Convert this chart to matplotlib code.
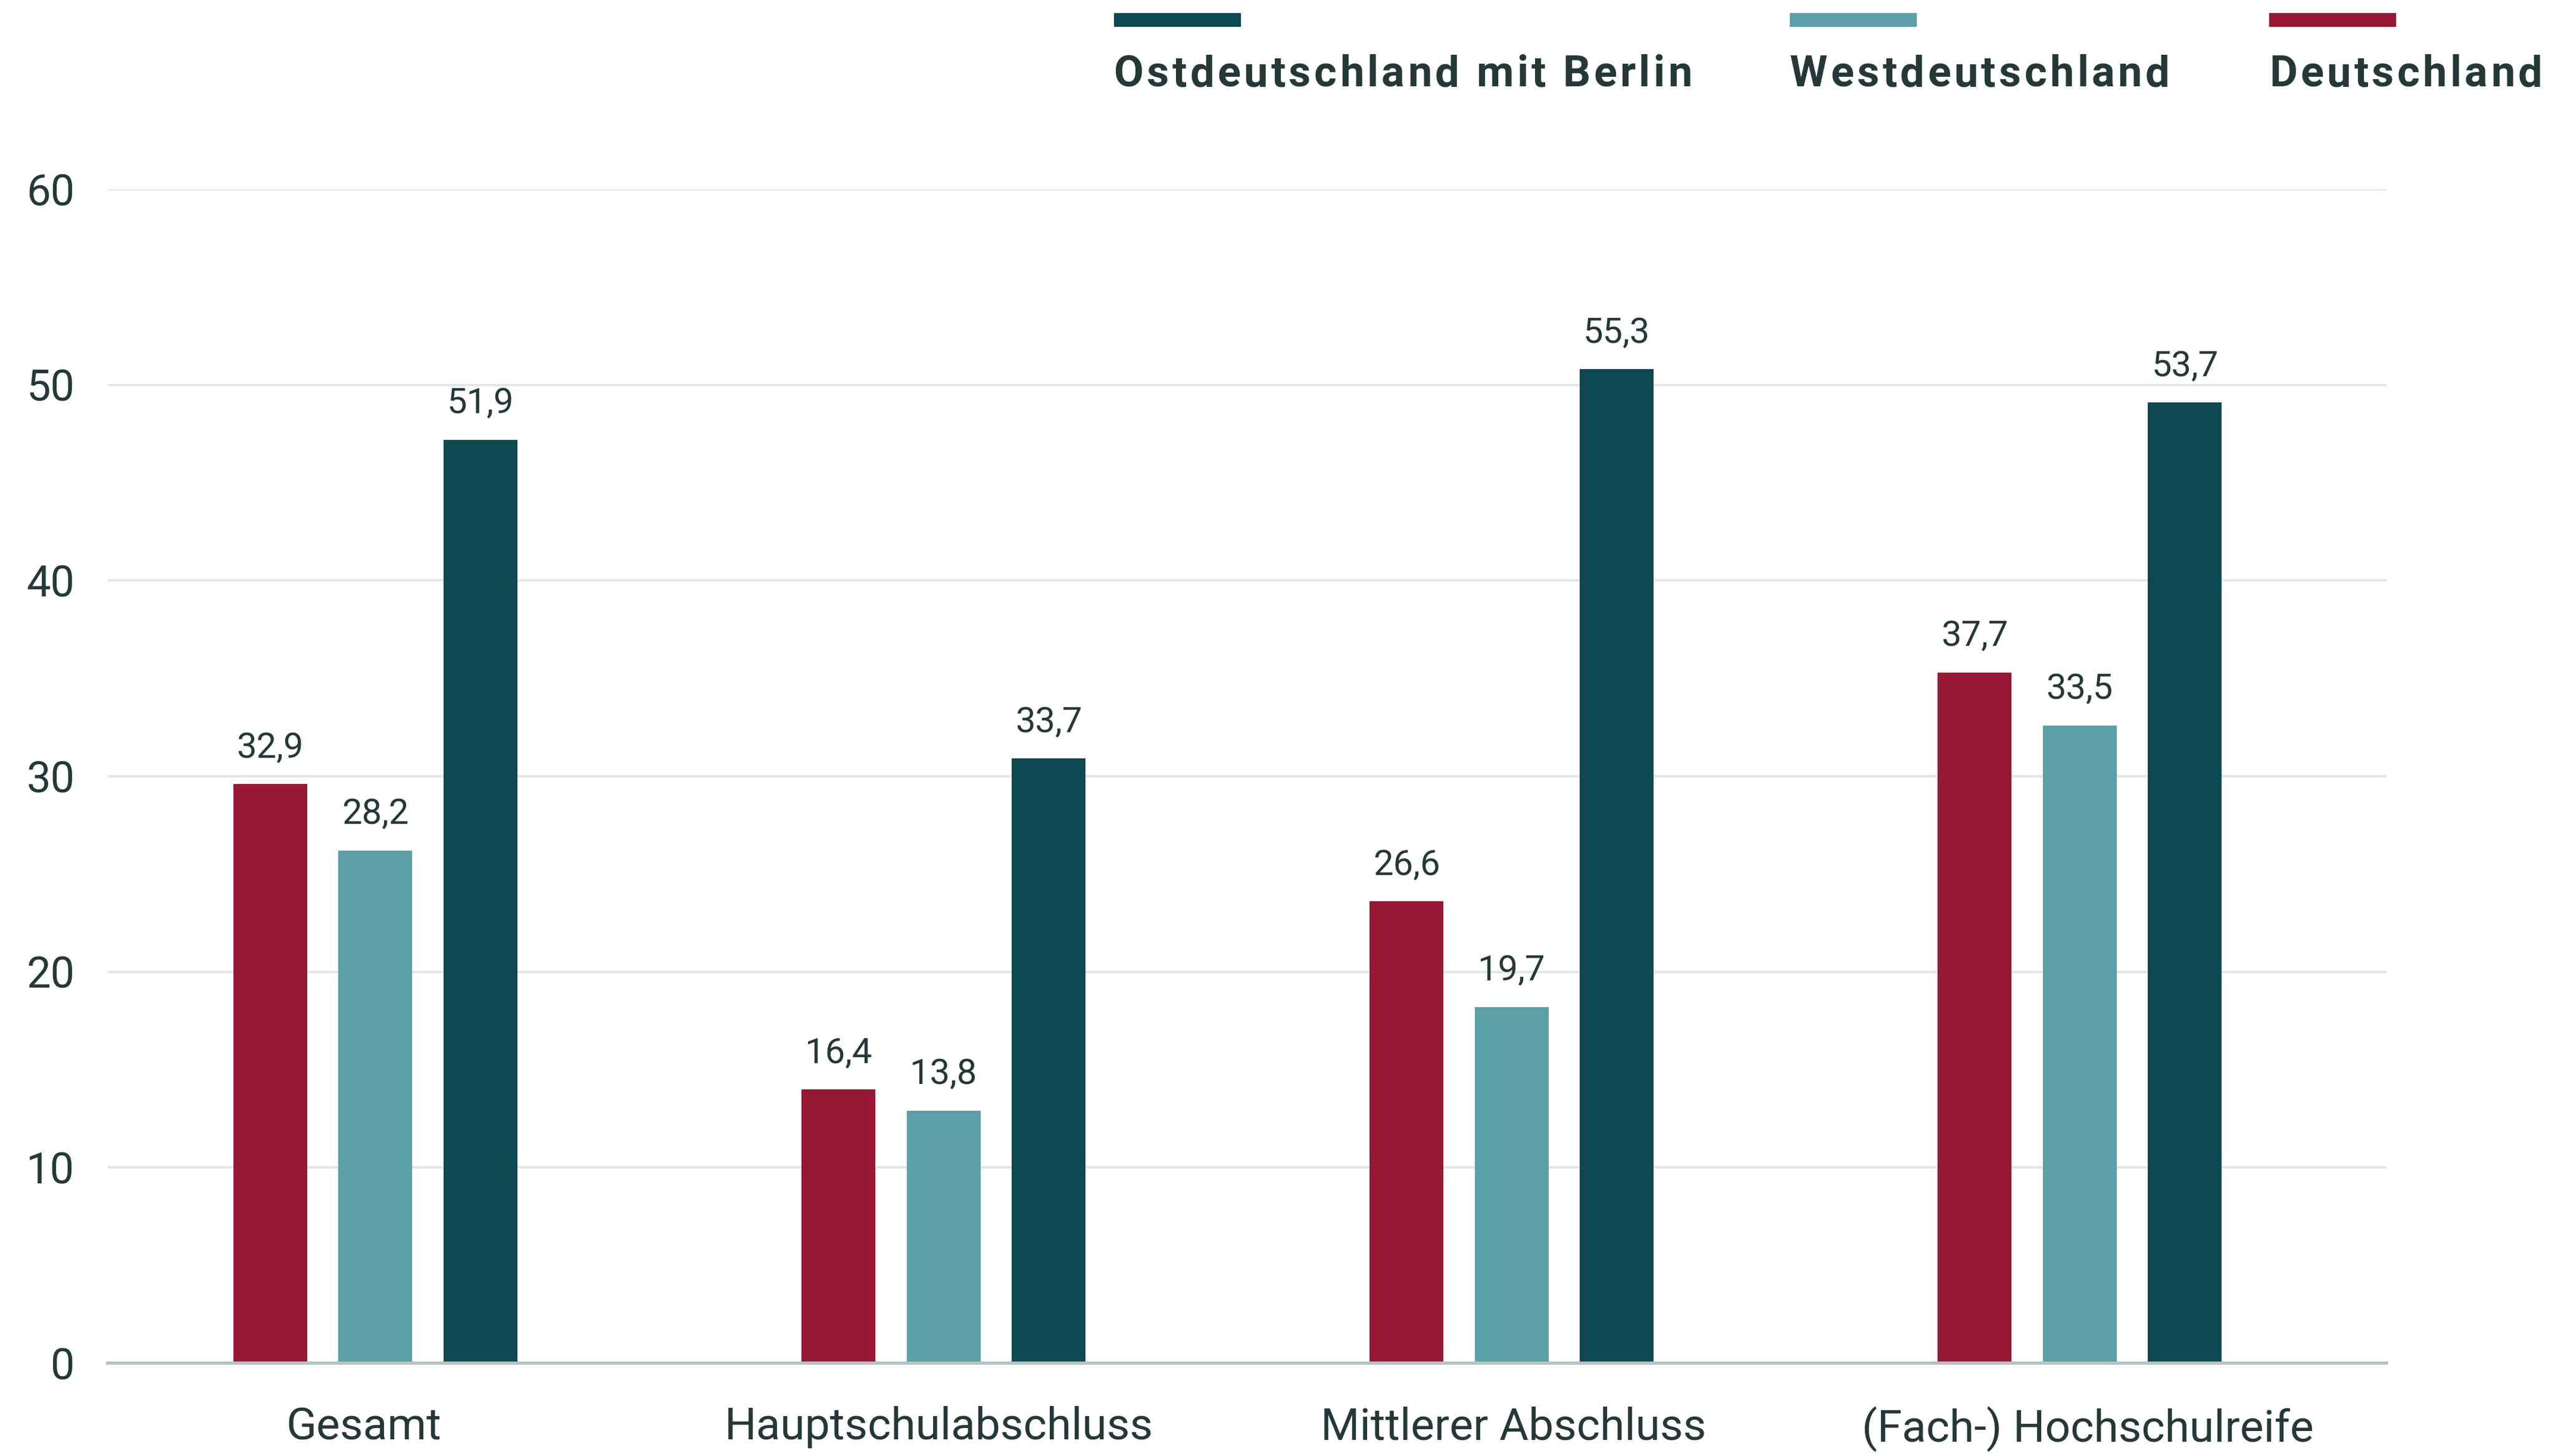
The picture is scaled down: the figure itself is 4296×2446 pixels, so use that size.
import matplotlib
matplotlib.use("Agg")
import matplotlib.pyplot as plt
import numpy as np
from matplotlib.patches import Rectangle
from matplotlib.font_manager import FontProperties

plt.rcParams['font.family'] = ['Roboto', 'DejaVu Sans']

categories = ["Gesamt", "Hauptschulabschluss", "Mittlerer Abschluss", "(Fach-) Hochschulreife"]
series_names = ["Deutschland", "Westdeutschland", "Ostdeutschland mit Berlin"]
# bar heights as drawn in the reference
deutschland = [29.6, 14.0, 23.6, 35.3]
westdeutschland = [26.2, 12.9, 18.2, 32.6]
ostdeutschland = [47.2, 30.9, 50.8, 49.1]
# value labels as printed in the reference
labels_deutschland = ["32,9", "16,4", "26,6", "37,7"]
labels_west = ["28,2", "13,8", "19,7", "33,5"]
labels_ost = ["51,9", "33,7", "55,3", "53,7"]
yticks = [0, 10, 20, 30, 40, 50, 60]

colors = ["#961833", "#5C9FA8", "#0E4850"]
text_color = "#253838"

W, H = 4296, 2446
DPI = 100
fig = plt.figure(figsize=(W / DPI, H / DPI), dpi=DPI)
ax = fig.add_axes([181 / W, 1 - 2290 / H, (4008 - 181) / W, (2290 - 318) / H])

x = np.arange(len(categories))
step = 0.185
width = 0.13
series = [deutschland, westdeutschland, ostdeutschland]
labels = [labels_deutschland, labels_west, labels_ost]
for i, (vals, labs, c) in enumerate(zip(series, labels, colors)):
    xs = x + (i - 1) * step
    ax.bar(xs, vals, width=width, color=c, zorder=3)
    for xi, v, lab in zip(xs, vals, labs):
        ax.annotate(lab, (xi, v), xytext=(0, 32), textcoords="offset points",
                    ha="center", va="baseline", fontsize=43, color=text_color)

ax.set_ylim(0, 60)
ax.set_xlim(-0.471, 3.54)
ax.set_yticks(yticks)
ax.set_yticklabels([str(t) for t in yticks], fontsize=52, color=text_color)
# category labels sit on a slightly wider band spacing than the bar groups
ax.set_xticks(x * 1.0115 - 0.02)
ax.set_xticklabels(categories, fontsize=54, color=text_color)
ax.tick_params(axis="y", length=0, pad=40)
ax.tick_params(axis="x", length=0, pad=52)
ax.grid(axis="y", color="#E1E7E7", linewidth=3, zorder=0)
for s in ["top", "right", "left"]:
    ax.spines[s].set_visible(False)
ax.spines["bottom"].set_color("#B5C2C2")
ax.spines["bottom"].set_linewidth(4)
ax.spines["bottom"].set_zorder(4)

# legend with letter spacing
renderer = fig.canvas.get_renderer()
prop = FontProperties(family=['Roboto', 'DejaVu Sans'], weight='bold', size=52)


def text_w(s):
    if not s.strip():
        return 0.0
    w, h, d = renderer.get_text_width_height_descent(s, prop, ismath=False)
    return w


def spaced_text(px, py, s, spacing):
    for i, ch in enumerate(s):
        if ch == " ":
            continue
        off = text_w(s[:i + 1]) - text_w(ch)
        fig.text((px + off + i * spacing) / W, py, ch, fontproperties=prop,
                 color=text_color, ha="left", va="baseline")


leg_items = [("Ostdeutschland mit Berlin", colors[2], 1871),
             ("Westdeutschland", colors[1], 3006),
             ("Deutschland", colors[0], 3811)]
for name, c, px in leg_items:
    fig.patches.append(Rectangle((px / W, 1 - 44 / H), 212 / W, 22 / H,
                                 transform=fig.transFigure, color=c))
    spaced_text(px, 1 - 145 / H, name, 5.3)

fig.savefig("out.png", dpi=DPI)
